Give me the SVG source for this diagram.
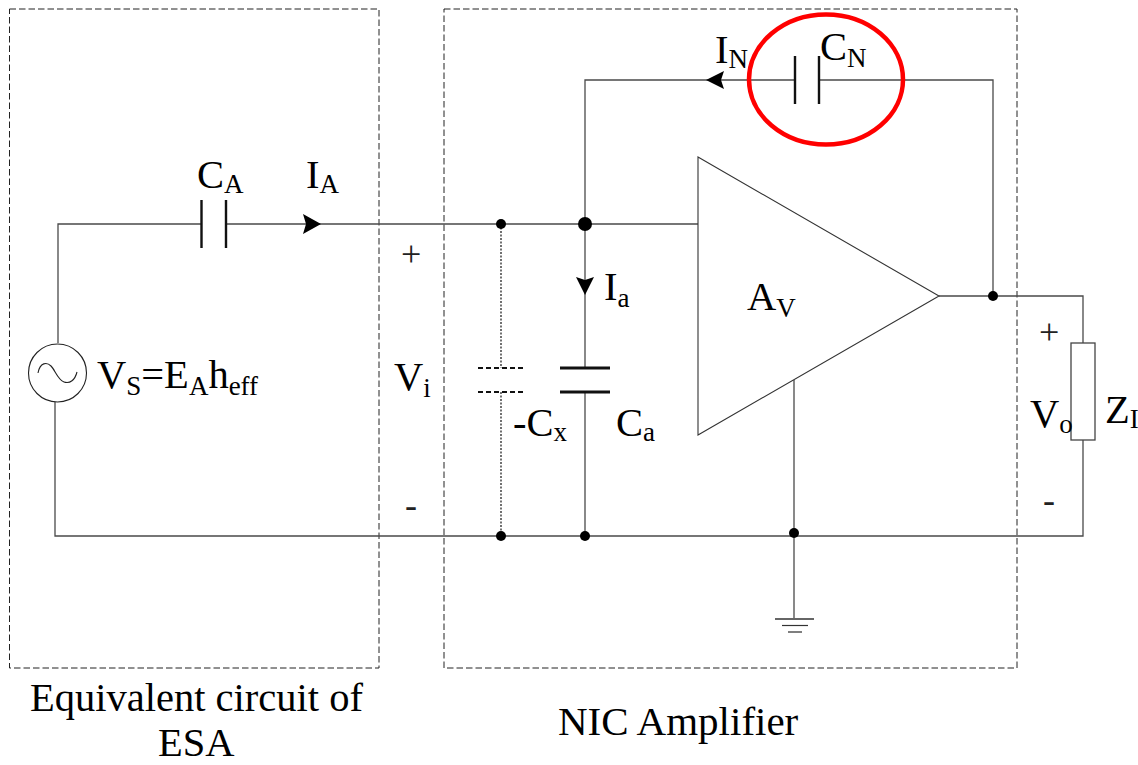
<svg xmlns="http://www.w3.org/2000/svg" width="1138" height="765" viewBox="0 0 1138 765">
<style>
.w{fill:none;stroke:#4a4a4a;stroke-width:1.3}
.p{fill:none;stroke:#111;stroke-width:2.4}
.b{fill:none;stroke:#222;stroke-width:1;stroke-dasharray:6.500 3}
.d{fill:none;stroke:#111;stroke-width:1.2;stroke-dasharray:2 1.5}
.dp{fill:none;stroke:#111;stroke-width:2;stroke-dasharray:5 3}
.n{fill:#000}
text{font-family:"Liberation Serif","Times New Roman",serif;font-size:40.500px;fill:#000}
.s{font-size:27px}
.m{font-size:36px;fill:#222}
</style>
<rect width="1138" height="765" fill="#fff"/>
<g id="box-esa"><rect class="b" x="9.500" y="9" width="369.500" height="659"/></g>
<g id="box-nic"><rect class="b" x="444" y="9" width="573" height="659"/></g>
<g id="connectors">
<path class="w" d="M58 343V224H201.500M226 224H698"/>
<path class="w" d="M55 402V536H1083V440M1083 343V296H939"/>
<path class="w" d="M993 296V80H819M795 80H585V368M585 392V536"/>
<path class="w" d="M794 380V619"/>
<path class="d" d="M501 224V368M501 392V536"/>
<polygon class="n" points="303,214 306,224 303,234 321,224"/>
<polygon class="n" points="724,71 721,80 724,89 706,80"/>
<polygon class="n" points="576,277 585,280 594,277 585,295"/>
</g>
<g id="source"><circle cx="57.500" cy="373" r="29" fill="#fff" stroke="#222" stroke-width="1.100"/><path fill="none" stroke="#222" stroke-width="1.100" d="M38 373C40 362 47 362 51 366C55 370 58 380 64 382C70 384 75 380 77 372"/><text x="97" y="388">V<tspan class="s" dy="7">S</tspan><tspan dy="-7">=E</tspan><tspan class="s" dy="7">A</tspan><tspan dy="-7">h</tspan><tspan class="s" dy="7">eff</tspan></text></g>
<g id="cap-a"><path class="p" d="M201.500 200V248M226 200V248"/><text x="197" y="188">C<tspan class="s" dy="5">A</tspan></text></g>
<g id="cap-n"><path class="p" d="M795 56V104M819 56V104"/><text x="820" y="60">C<tspan class="s" dy="7">N</tspan></text></g>
<g id="cap-a2"><path class="p" style="stroke-width:3" d="M560 368H610M560 392H610"/><text x="616" y="436">C<tspan class="s" dy="5">a</tspan></text></g>
<g id="cap-x"><path class="dp" d="M478 368H526M478 392H526"/><text x="513" y="436">-C<tspan class="s" dy="5">x</tspan></text></g>
<g id="amp"><polygon points="698,157 939,296 698,435" fill="none" stroke="#333" stroke-width="1.100"/><text x="747" y="310">A<tspan class="s" dy="7">V</tspan></text></g>
<g id="load"><rect x="1071" y="343" width="24" height="97" fill="#fff" stroke="#444" stroke-width="1.300"/><text x="1105" y="423">Z<tspan class="s" dy="5">I</tspan></text></g>
<g id="ground"><path stroke="#666" fill="none" d="M775 619H814" stroke-width="2"/><path stroke="#333" fill="none" d="M782 625.500H808" stroke-width="1.200"/><path stroke="#555" fill="none" d="M788 632H802" stroke-width="1.500"/></g>
<g id="junctions">
<circle class="n" cx="501" cy="224" r="5"/><circle class="n" cx="585" cy="224" r="7"/><circle class="n" cx="993" cy="296" r="5"/>
<circle class="n" cx="501" cy="536" r="5"/><circle class="n" cx="585" cy="536" r="5"/><circle class="n" cx="794" cy="533" r="5"/>
</g>
<g id="highlight"><ellipse cx="826" cy="79.500" rx="77" ry="65" fill="none" stroke="#f00" stroke-width="4.500"/></g>
<g id="labels">
<text x="306" y="188">I<tspan class="s" dy="5">A</tspan></text>
<text x="715" y="63">I<tspan class="s" dy="5">N</tspan></text>
<text x="604" y="300">I<tspan class="s" dy="7">a</tspan></text>
<text x="394" y="390">V<tspan class="s" dy="7">i</tspan></text>
<text x="1030" y="427">V<tspan class="s" dy="6">o</tspan></text>
<text class="m" x="401" y="266">+</text>
<text class="m" x="405" y="517">-</text>
<text class="m" x="1039" y="344">+</text>
<text class="m" x="1043" y="512">-</text>
<text x="30" y="711">Equivalent circuit of</text>
<text x="158" y="756">ESA</text>
<text x="558" y="735" style="font-size:41px">NIC Amplifier</text>
</g>
</svg>
